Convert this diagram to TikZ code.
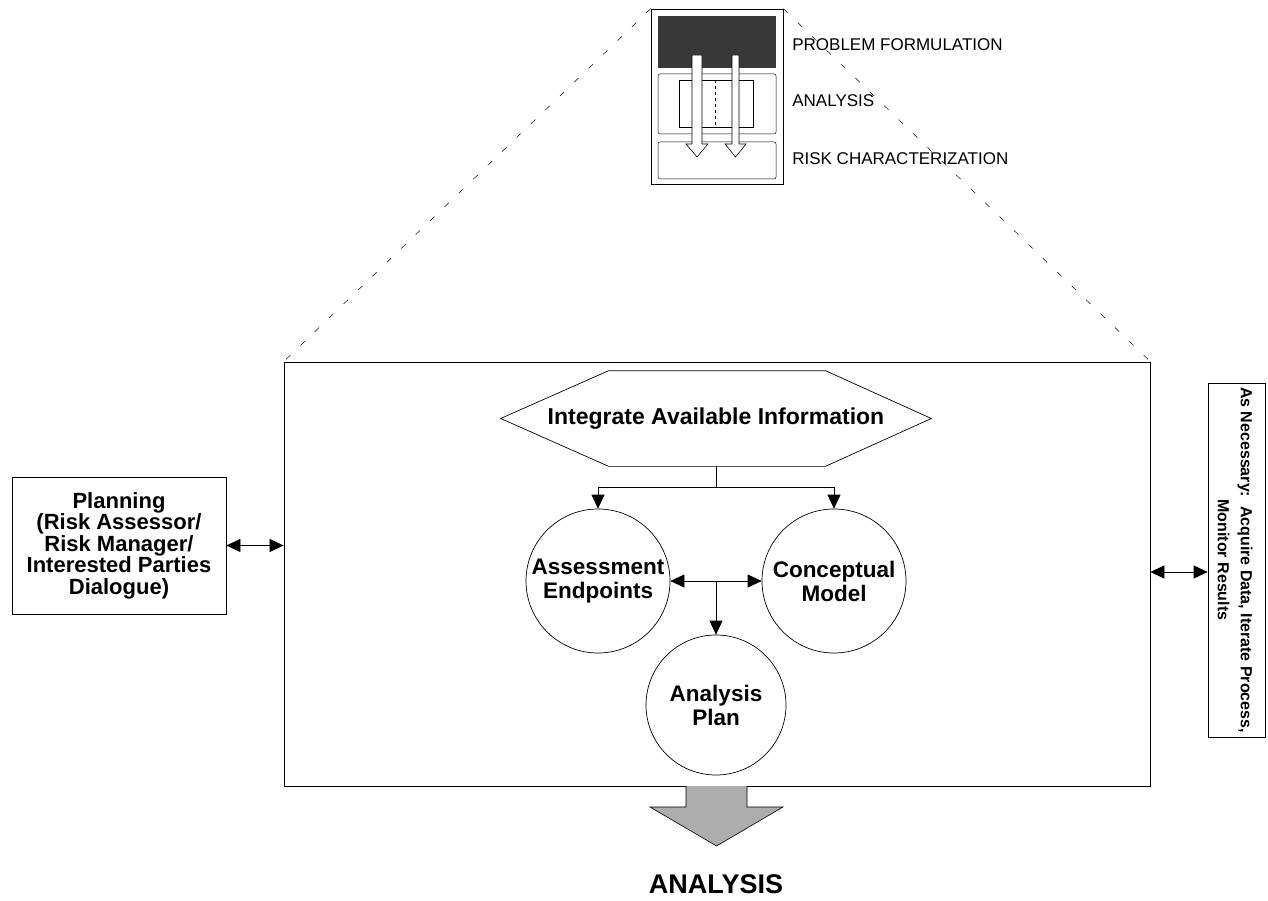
\documentclass[tikz,border=0pt]{standalone}
\usepackage{fontspec}
\setmainfont{Liberation Sans}
\usetikzlibrary{arrows.meta}
\begin{document}
\begin{tikzpicture}[x=1pt,y=-1pt,
  every path/.style={line width=0.7pt},
  tip/.style={-{Triangle[length=14pt,width=13pt]}},
  dtip/.style={{Triangle[length=14pt,width=13pt]}-{Triangle[length=14pt,width=13pt]}},
  bubble/.style={circle, draw, line width=0.7pt, minimum size=144pt, inner sep=0pt, align=center,
    font=\fontsize{22.5}{24}\selectfont\bfseries},
  lab/.style={anchor=west, inner sep=0pt, font=\fontsize{17}{20}\selectfont},
  zoomline/.style={dash pattern=on 6pt off 14pt, line width=0.5pt},
  blockarrow/.style={fill=white, draw, line width=0.6pt},
]
\useasboundingbox (0,0) rectangle (1268,901);

% ---------- icon ----------
\node[draw, line width=0.6pt, minimum width=132pt, minimum height=175pt, inner sep=0pt] (icon) at (717,96.5) {};
\fill[black!78] (658,16) rectangle (776,68);
\draw[rounded corners=2pt, line width=0.5pt] (658,74) rectangle (776,134);
\draw[line width=0.5pt] (679,80) rectangle (753,127);
\draw[dashed, line width=0.5pt] (715,80) -- (715,127);
\draw[rounded corners=2pt, line width=0.5pt] (658,142) rectangle (776,179);
\draw[blockarrow] (692,55) -- (702,55) -- (702,144) -- (708,144) -- (697,157) -- (686,144) -- (692,144) -- cycle;
\draw[blockarrow] (732,55) -- (739,55) -- (739,144) -- (746,144) -- (735.5,157) -- (725,144) -- (732,144) -- cycle;

\node[lab] (pf) at (792,45) {PROBLEM FORMULATION};
\node[lab] (an1) at (792,101) {ANALYSIS};
\node[lab] (rc) at (792,159) {RISK CHARACTERIZATION};

% ---------- main box ----------
\node[draw, line width=0.8pt, minimum width=866pt, minimum height=424pt, inner sep=0pt] (main) at (717,574) {};
\draw[zoomline] (icon.north west) -- (main.north west);
\draw[zoomline] (icon.north east) -- (main.north east);

% hexagon
\node[minimum width=430pt, minimum height=95pt, inner sep=0pt,
  font=\fontsize{23}{26}\selectfont\bfseries] (hex) at (716,418.5) {Integrate Available Information};
\draw (hex.west) -- ([xshift=108pt]hex.north west) -- ([xshift=-106pt]hex.north east)
  -- (hex.east) -- ([xshift=-106pt]hex.south east) -- ([xshift=108pt]hex.south west) -- cycle;

% circles
\node[bubble] (ae) at (598,581) {Assessment\\Endpoints};
\node[bubble] (cm) at (834,581) {Conceptual\\Model};
\node[bubble, minimum size=140pt] (ap) at (716,705) {Analysis\\Plan};

\coordinate (j) at (716,487);
\draw (hex.south) -- (j);
\draw[tip] (j) -| (ae.north);
\draw[tip] (j) -| (cm.north);
\draw[dtip] (ae.east) -- (cm.west);
\draw[tip] (ap.north |- ae.east) -- (ap.north);

% big output arrow
\draw[fill=black!32, line width=0.6pt] (686,786) -- (686,807) -- (650,807) -- (716.5,846) coordinate (bt)
  -- (783,807) -- (747,807) -- (747,786);
\node[font=\fontsize{27}{30}\selectfont\bfseries] (an) at (716,884) {ANALYSIS};

% planning box
\node[draw, minimum width=214pt, minimum height=137pt, inner sep=0pt, align=center,
  font=\fontsize{22}{21.5}\selectfont\bfseries] (plan) at (119,545.5)
  {Planning\\(Risk Assessor/\\Risk Manager/\\Interested Parties\\Dialogue)};
\draw[dtip] (plan.east) -- (main.west |- plan.east);

% right box
\node[draw, minimum width=57pt, minimum height=354pt, inner sep=0pt] (nec) at (1236.5,560) {};
\node[rotate=-90, align=center, inner sep=0pt, font=\fontsize{16}{23}\selectfont\bfseries] (nect) at (1235,560)
  {As Necessary:\ \ Acquire Data, Iterate Process,\\Monitor Results};
\coordinate (r) at (1180,572);
\draw[dtip] (main.east |- r) -- (nec.west |- r);
\end{tikzpicture}
\end{document}
